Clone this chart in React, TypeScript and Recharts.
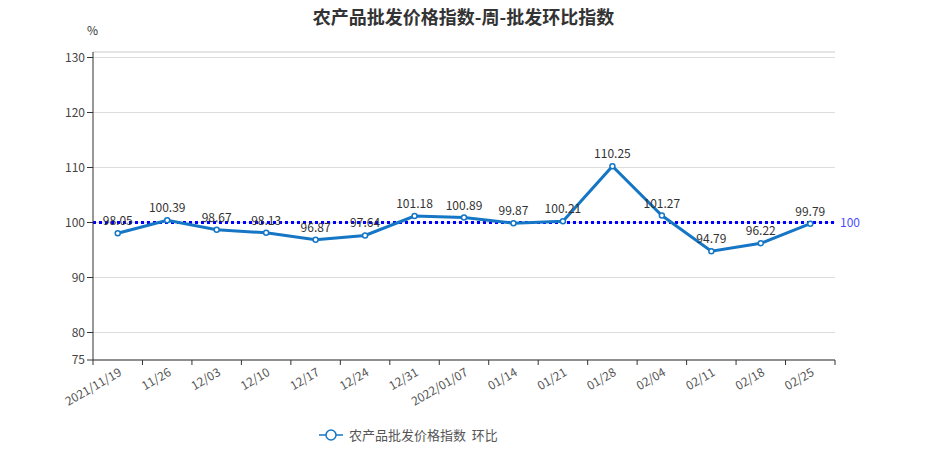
import { LineChart, Line, XAxis, YAxis, CartesianGrid, ReferenceLine, LabelList } from 'recharts'

const categories = ['2021/11/19', '11/26', '12/03', '12/10', '12/17', '12/24', '12/31', '2022/01/07', '01/14', '01/21', '01/28', '02/04', '02/11', '02/18', '02/25']
const values = [98.05, 100.39, 98.67, 98.13, 96.87, 97.64, 101.18, 100.89, 99.87, 100.21, 110.25, 101.27, 94.79, 96.22, 99.79]
const yTicks = [75, 80, 90, 100, 110, 120, 130]
const seriesName = '农产品批发价格指数  环比'
const baseline = 100

const data = categories.map((c, i) => ({ date: c, value: values[i] }))

const W = 927
const H = 464
const PLOT_LEFT = 93
const PLOT_RIGHT = 835
const BAND = (PLOT_RIGHT - PLOT_LEFT) / categories.length
const FONT = "'Noto Sans CJK SC', 'Noto Sans', sans-serif"
const BLUE = '#1576c5'

function XTick(props: any) {
  const { x, y, payload, index } = props
  const left = x - BAND / 2
  return (
    <g>
      <line x1={left} y1={y - 8} x2={left} y2={y - 3} stroke="#333" />
      {index === categories.length - 1 && (
        <line x1={x + BAND / 2} y1={y - 8} x2={x + BAND / 2} y2={y - 3} stroke="#333" />
      )}
      <text
        x={x + 2}
        y={y + 2}
        textAnchor="end"
        fill="#555"
        fontSize={12}
        fontFamily={FONT}
        transform={`rotate(-30, ${x + 2}, ${y + 2})`}
        dominantBaseline="central"
      >
        {payload.value}
      </text>
    </g>
  )
}

export default function App() {
  return (
    <div style={{ position: 'absolute', left: 0, top: 0, width: W, height: H, background: '#fff', fontFamily: FONT }}>
      <div style={{ position: 'absolute', left: 0, top: 3, width: W, textAlign: 'center', fontSize: 18, fontWeight: 'bold', color: '#333' }}>
        农产品批发价格指数-周-批发环比指数
      </div>
      <div style={{ position: 'absolute', left: 87, top: 21, fontSize: 12, color: '#333' }}>%</div>
      <LineChart width={W} height={H} data={data} margin={{ top: 52, right: W - PLOT_RIGHT, left: 0, bottom: 54 }}>
        <CartesianGrid vertical={false} stroke="#ddd" />
        <XAxis
          dataKey="date"
          interval={0}
          height={50}
          padding={{ left: BAND / 2, right: BAND / 2 }}
          tickLine={false}
          axisLine={{ stroke: '#333' }}
          tick={<XTick />}
        />
        <YAxis
          width={PLOT_LEFT}
          domain={[75, 131]}
          ticks={yTicks}
          allowDataOverflow
          axisLine={{ stroke: '#333' }}
          tickLine={{ stroke: '#333' }}
          tick={{ fontSize: 12, fill: '#444', fontFamily: FONT }}
        />
        <ReferenceLine y={131} stroke="#ddd" />
        <ReferenceLine
          y={baseline}
          stroke="#0000ff"
          strokeWidth={3}
          strokeDasharray="3 3"
          label={{ value: String(baseline), position: 'right', fill: '#4d4dff', fontSize: 12, fontFamily: FONT }}
        />
        <Line
          type="linear"
          dataKey="value"
          name={seriesName}
          stroke={BLUE}
          strokeWidth={3}
          dot={{ r: 2.5, fill: '#fff', stroke: BLUE, strokeWidth: 1.5 }}
          activeDot={false}
          isAnimationActive={false}
        >
          <LabelList dataKey="value" position="top" offset={8} fill="#333" fontSize={12} fontFamily={FONT} />
        </Line>
      </LineChart>
      <div style={{ position: 'absolute', left: 318, top: 425, display: 'flex', alignItems: 'center', fontSize: 13, color: '#555' }}>
        <svg width={26} height={14} style={{ marginRight: 5 }}>
          <line x1={1} y1={7} x2={25} y2={7} stroke={BLUE} strokeWidth={1.5} />
          <circle cx={13} cy={7} r={5} fill="#fff" stroke={BLUE} strokeWidth={1.5} />
        </svg>
        <span style={{ whiteSpace: 'pre' }}>{seriesName}</span>
      </div>
    </div>
  )
}
